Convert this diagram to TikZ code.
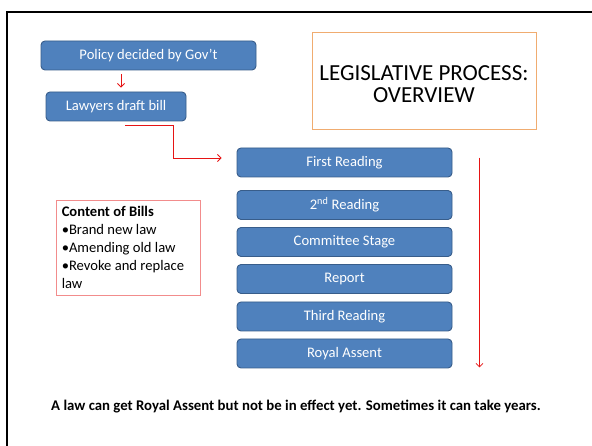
\documentclass[tikz,border=0pt]{standalone}
\usepackage{fontspec}
\setmainfont{Carlito}
\usetikzlibrary{arrows.meta,calc}
\definecolor{boxfill}{RGB}{79,129,189}
\definecolor{boxline}{RGB}{56,93,138}
\definecolor{titleline}{RGB}{240,172,112}
\definecolor{contline}{RGB}{242,140,140}
\definecolor{arr}{RGB}{230,20,20}
\begin{document}
\begin{tikzpicture}[x=1pt,y=-1pt,
  bluebox/.style={draw=boxline,fill=boxfill,line width=0.9pt,rounded corners=4pt,
    text=white,font=\fontsize{14.6}{17}\selectfont,inner sep=0pt,minimum height=29pt},
  redarrow/.style={draw=arr,line width=0.8pt,-{Straight Barb[length=3.5pt,width=7pt]}}]
\useasboundingbox (0,0) rectangle (592,446);
\fill[white] (0,0) rectangle (592,446);
% frame
\draw[line width=2.2pt] (7,446) -- (7,12) -- (592,12);
% title
\node[draw=titleline,line width=0.9pt,minimum width=224pt,minimum height=97pt,inner sep=0pt] (tbox) at (424,80.5) {};
\node[align=center,font=\fontsize{23}{22}\selectfont,inner sep=0pt] (ttext) at ($(tbox.center)+(0,3.5)$) {LEGISLATIVE PROCESS:\\OVERVIEW};
% top boxes
\node[bluebox,minimum width=215pt] (pol) at (148.5,55.5) {Policy decided by Gov’t};
\node[bluebox,minimum width=140pt] (law) at (116,106.5) {Lawyers draft bill};
% stages
\node[bluebox,minimum width=215pt] (fr) at (344.5,162.5) {First Reading};
\node[bluebox,minimum width=215pt] (sr) at (344.5,205) {2\textsuperscript{nd} Reading};
\node[bluebox,minimum width=215pt] (cs) at (344.5,242) {Committee Stage};
\node[bluebox,minimum width=215pt] (rp) at (344.5,279) {Report};
\node[bluebox,minimum width=215pt] (tr) at (344.5,316.5) {Third Reading};
\node[bluebox,minimum width=215pt] (ra) at (344.5,353.5) {Royal Assent};
% content box
\node[draw=contline,line width=0.9pt,minimum width=144pt,minimum height=95pt,inner sep=0pt] (cbox) at (128,247.5) {};
\node[anchor=north west,align=left,inner sep=0pt,font=\fontsize{14.6}{17.8}\selectfont] (ctext) at ($(cbox.north west)+(6,7)$)
  {\textbf{Content of Bills}\\•Brand new law\\•Amending old law\\•Revoke and replace\\law};
% bottom text
\node[font=\bfseries\fontsize{14.8}{17}\selectfont,inner sep=0pt] (note) at (296,407)
  {A law can get Royal Assent but not be in effect yet. Sometimes it can take years.};
% connectors
\draw[redarrow] ($(pol.south)+(-27.5,4)$) -- ($(law.north)+(5,-4)$);
\coordinate (e1) at ($(law.south)+(9,4)$);
\coordinate (e2) at ($(fr.west)+(-15,-4.5)$);
\draw[redarrow] (e1) -| ($(e1)!0.5!(e2)$) |- (e2);
\draw[redarrow] ($(fr.north east)+(27,10)$) -- ($(ra.south east)+(27,-1)$);
\end{tikzpicture}
\end{document}
